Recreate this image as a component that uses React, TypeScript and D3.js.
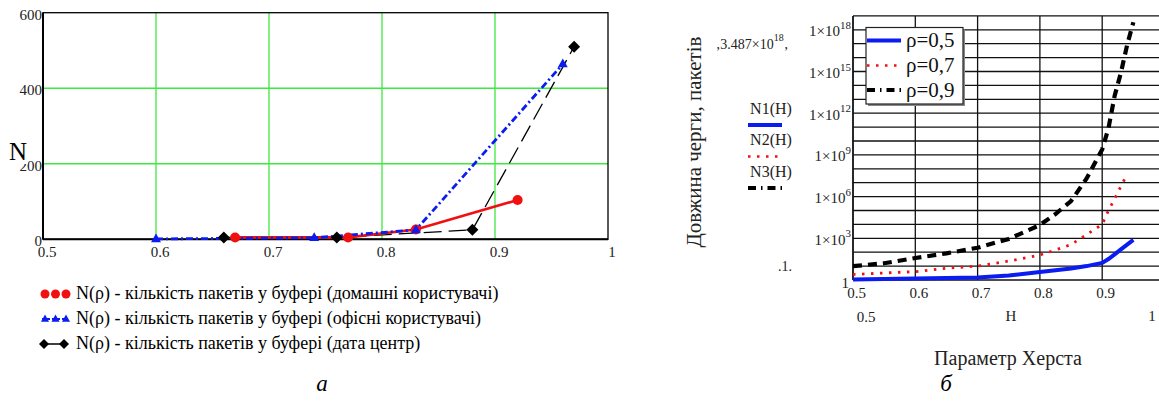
import React from "react";
import * as d3 from "d3";

// ---------- Left chart (a) ----------
const leftXTicks = [0.5, 0.6, 0.7, 0.8, 0.9, 1];
const leftXTickLabels = ["0.5", "0.6", "0.7", "0.8", "0.9", "1"];
const leftYTicks = [0, 200, 400, 600];
const homeRho = [0.67, 0.77, 0.83, 0.92];
const homeN = [5, 5, 26, 104];
const officeRho = [0.6, 0.74, 0.83, 0.96];
const officeN = [1, 4, 25, 464];
const dcRho = [0.66, 0.76, 0.88, 0.97];
const dcN = [5, 5, 25, 510];
const leftLegend = [
  "N(ρ) - кількість пакетів у буфері (домашні користувачі)",
  "N(ρ) - кількість пакетів у буфері (офісні користувачі)",
  "N(ρ) - кількість пакетів у буфері (дата центр)",
];

// ---------- Right chart (б) ----------
const hurstH = [0.5, 0.55, 0.6, 0.65, 0.7, 0.75, 0.8, 0.825, 0.85, 0.875, 0.9, 0.91, 0.92, 0.93, 0.94, 0.95];
const n1 = [1.1, 1.2, 1.3, 1.4, 1.5, 2.1, 3.8, 5, 6.7, 10, 17, 32, 70, 160, 350, 760];
const n2 = [2.5, 3.2, 4, 7, 10, 23, 63, 145, 355, 1850, 1e4, 1e5, 7e5, 5.6e6, 4e7, null];
const n3 = [10, 16, 38, 83, 210, 900, 9000, 5.6e4, 4.8e5, 2e7, 2.5e9, 8e10, 1.8e13, 8e14, 8e16, 3.487e18];
const rightXTicks = [0.5, 0.6, 0.7, 0.8, 0.9];
const rightXTickLabels = ["0.5", "0.6", "0.7", "0.8", "0.9"];
const rightYLabelExps = [18, 15, 12, 9, 6, 3];
const rightLegend = ["ρ=0,5", "ρ=0,7", "ρ=0,9"];
const seriesNames = ["N1(H)", "N2(H)", "N3(H)"];

const SERIF = "Liberation Serif, Times New Roman, DejaVu Serif, serif";
const GREEN = "#3ee83e";

export default function App() {
  // left scales
  const xL = d3.scaleLinear().domain([0.5, 1]).range([43, 608]);
  const yL = d3.scaleLinear().domain([0, 600]).range([239.3, 12.7]);
  const lineL = d3.line<[number, number]>().x((d) => xL(d[0])).y((d) => yL(d[1]));
  const homePts = homeRho.map((r, i) => [r, homeN[i]] as [number, number]);
  const officePts = officeRho.map((r, i) => [r, officeN[i]] as [number, number]);
  const dcPts = dcRho.map((r, i) => [r, dcN[i]] as [number, number]);

  // right scales
  const xR = d3.scaleLinear().domain([0.5, 1]).range([853, 1164.5]);
  const yR = d3.scaleLog().domain([1, 1e19]).range([280, 15.9]);
  const lineR = d3
    .line<[number, number | null]>()
    .defined((d) => d[1] != null)
    .x((d) => xR(d[0]))
    .y((d) => yR(d[1] as number));
  const s1 = hurstH.map((h, i) => [h, n1[i]] as [number, number | null]);
  const s2 = hurstH.map((h, i) => [h, n2[i]] as [number, number | null]);
  const s3 = hurstH.map((h, i) => [h, n3[i]] as [number, number | null]);
  const decades = d3.range(1, 19).map((k) => Math.pow(10, k));

  const tri = (cx: number, cy: number, s = 6) =>
    `M${cx},${cy - s} L${cx + s * 0.9},${cy + s * 0.6} L${cx - s * 0.9},${cy + s * 0.6} Z`;
  const dia = (cx: number, cy: number, s = 6) =>
    `M${cx},${cy - s} L${cx + s},${cy} L${cx},${cy + s} L${cx - s},${cy} Z`;

  const plotL = xL(0.5), plotR = xL(1), plotT = yL(600), plotB = yL(0);
  const rL = xR(0.5), rT = yR(1e19), rB = yR(1);

  return (
    <svg width={1159} height={401} style={{ position: "absolute", left: 0, top: 0, background: "#fff", fontFamily: SERIF }}>
      <rect x={0} y={0} width={1159} height={401} fill="#fff" />
      {/* ===== Left chart ===== */}
      {leftXTicks.slice(1, -1).map((t) => (
        <line key={"gx" + t} x1={xL(t)} x2={xL(t)} y1={plotT} y2={plotB} stroke={GREEN} strokeWidth={1.3} />
      ))}
      {leftYTicks.slice(1, -1).map((t) => (
        <line key={"gy" + t} x1={plotL} x2={plotR} y1={yL(t)} y2={yL(t)} stroke={GREEN} strokeWidth={1.3} />
      ))}
      <rect x={plotL} y={plotT} width={plotR - plotL} height={plotB - plotT} fill="none" stroke="#000" strokeWidth={1.3} />
      <line x1={plotL} x2={plotR} y1={plotB} y2={plotB} stroke="#000" strokeWidth={2} />
      <line x1={plotL} x2={plotL} y1={plotT} y2={plotB} stroke="#000" strokeWidth={2} />
      {leftXTicks.map((t, i) => (
        <text key={"lx" + t} x={xL(t) + 4} y={254} fontSize={15} textAnchor="middle" dominantBaseline="middle" fill="#222">
          {leftXTickLabels[i]}
        </text>
      ))}
      {leftYTicks.map((t) => (
        <text key={"ly" + t} x={42} y={yL(t) + 3.5} fontSize={15} textAnchor="end" dominantBaseline="middle" fill="#222">
          {t}
        </text>
      ))}
      <rect x={8} y={140} width={20} height={24} fill="#fff" />
      <text x={18} y={154} fontSize={25} textAnchor="middle" dominantBaseline="middle" fill="#000">N</text>

      {/* lines */}
      <path d={lineL(dcPts) || ""} fill="none" stroke="#000" strokeWidth={1.3} strokeDasharray="18 7" />
      <path d={lineL(homePts) || ""} fill="none" stroke="#f01010" strokeWidth={2.6} />
      <path d={lineL(officePts) || ""} fill="none" stroke="#0a1cf0" strokeWidth={2.8} strokeDasharray="7 3 2 3" />
      {homePts.map((p, i) => (
        <circle key={"hc" + i} cx={xL(p[0])} cy={yL(p[1])} r={5} fill="#f01010" />
      ))}
      {officePts.map((p, i) => (
        <path key={"ot" + i} d={tri(xL(p[0]), yL(p[1]), 5.5)} fill="#0a1cf0" />
      ))}
      {dcPts.map((p, i) => (
        <path key={"dd" + i} d={dia(xL(p[0]), yL(p[1]), 6)} fill="#000" />
      ))}

      {/* left legend */}
      {[0, 1, 2].map((k) => (
        <circle key={"lc" + k} cx={45 + k * 10.5} cy={294} r={4.5} fill="#f01010" />
      ))}
      <line x1={42} x2={68} y1={319} y2={319} stroke="#0a1cf0" strokeWidth={2} strokeDasharray="3 2" />
      {[0, 1, 2].map((k) => (
        <path key={"lt" + k} d={tri(45 + k * 10.5, 319, 4.5)} fill="#0a1cf0" />
      ))}
      <line x1={44} x2={64} y1={344} y2={344} stroke="#000" strokeWidth={1.5} />
      <path d={dia(44, 344, 5)} fill="#000" />
      <path d={dia(64, 344, 5)} fill="#000" />
      {leftLegend.map((s, k) => (
        <text key={"lg" + k} x={76} y={295 + k * 25} fontSize={18} dominantBaseline="middle" fill="#000">
          {s}
        </text>
      ))}
      <text x={322} y={386} fontSize={23} fontStyle="italic" textAnchor="middle" dominantBaseline="middle">а</text>

      {/* ===== Right chart ===== */}
      {decades.map((v) => (
        <line key={"rg" + v} x1={rL} x2={1159} y1={yR(v)} y2={yR(v)} stroke="#111" strokeWidth={1.3} />
      ))}
      {rightXTicks.slice(1).map((t) => (
        <line key={"rv" + t} x1={xR(t)} x2={xR(t)} y1={rT} y2={rB} stroke="#111" strokeWidth={1.3} />
      ))}
      <line x1={rL} x2={1159} y1={rT} y2={rT} stroke="#111" strokeWidth={1.3} />
      <line x1={rL} x2={1159} y1={rB} y2={rB} stroke="#111" strokeWidth={1.6} />
      <line x1={rL} x2={rL} y1={rT} y2={rB} stroke="#111" strokeWidth={1.8} />

      {/* curves */}
      <path d={lineR(s1) || ""} fill="none" stroke="#0a1cf0" strokeWidth={4} />
      <path d={lineR(s2) || ""} fill="none" stroke="#f01010" strokeWidth={2.8} strokeDasharray="2.5 6.5" />
      <path d={lineR(s3) || ""} fill="none" stroke="#000" strokeWidth={4.2} strokeDasharray="9 6" />

      {/* right legend box */}
      <rect x={868} y={29.5} width={97} height={76.5} fill="#888" />
      <rect x={866} y={27.5} width={97} height={76.5} fill="#fff" stroke="#222" strokeWidth={1.2} />
      <line x1={867} x2={901} y1={40.5} y2={40.5} stroke="#0a1cf0" strokeWidth={4} />
      <line x1={867} x2={901} y1={65.5} y2={65.5} stroke="#f01010" strokeWidth={2.5} strokeDasharray="2.5 6.5" />
      <line x1={867} x2={901} y1={90} y2={90} stroke="#000" strokeWidth={4} strokeDasharray="8 5 1.5 5" />
      {rightLegend.map((s, k) => (
        <text key={"rl" + k} x={906} y={42 + k * 25} fontSize={21} dominantBaseline="middle" fill="#111">
          {s}
        </text>
      ))}

      {/* right y labels */}
      {rightYLabelExps.map((e) => (
        <text key={"ry" + e} x={851} y={yR(Math.pow(10, e)) + 3} fontSize={15} textAnchor="end" dominantBaseline="middle" fill="#222">
          1×10<tspan dy={-7} fontSize={11}>{e}</tspan>
        </text>
      ))}
      <text x={849} y={285} fontSize={15} textAnchor="end" dominantBaseline="middle" fill="#222">1</text>
      {rightXTicks.map((t, i) => (
        <text key={"rx" + t} x={xR(t) + 3.5} y={295} fontSize={15} textAnchor="middle" dominantBaseline="middle" fill="#222">
          {rightXTickLabels[i]}
        </text>
      ))}
      <text x={866} y={319} fontSize={15} textAnchor="middle" dominantBaseline="middle" fill="#222">0.5</text>
      <text x={1011} y={318} fontSize={15} textAnchor="middle" dominantBaseline="middle" fill="#222">H</text>
      <text x={1152} y={318} fontSize={15} textAnchor="middle" dominantBaseline="middle" fill="#222">1</text>

      {/* left-of-axis annotations */}
      <text x={752} y={46} fontSize={14} textAnchor="middle" dominantBaseline="middle" fill="#222">
        ‚3.487×10<tspan dy={-7} fontSize={10}>18</tspan><tspan dy={7}>‚</tspan>
      </text>
      {seriesNames.map((s, k) => (
        <text key={"sn" + k} x={771} y={110 + k * 31.5} fontSize={16} textAnchor="middle" dominantBaseline="middle" fill="#222">
          {s}
        </text>
      ))}
      <line x1={748} x2={782} y1={125} y2={125} stroke="#0a1cf0" strokeWidth={4} />
      <line x1={748} x2={782} y1={156.5} y2={156.5} stroke="#f01010" strokeWidth={2.5} strokeDasharray="2.5 6.5" />
      <line x1={748} x2={782} y1={188} y2={188} stroke="#000" strokeWidth={4} strokeDasharray="8 5 1.5 5" />
      <text x={785} y={268} fontSize={14} textAnchor="middle" dominantBaseline="middle" fill="#222">.1.</text>
      <text
        transform={`translate(696,142) rotate(-90)`}
        fontSize={21}
        textAnchor="middle"
        dominantBaseline="middle"
        fill="#222"
      >
        Довжина черги, пакетів
      </text>
      <text x={1008} y={360} fontSize={20} textAnchor="middle" dominantBaseline="middle" fill="#222">Параметр Херста</text>
      <text x={946} y={386} fontSize={23} fontStyle="italic" textAnchor="middle" dominantBaseline="middle">б</text>
    </svg>
  );
}
